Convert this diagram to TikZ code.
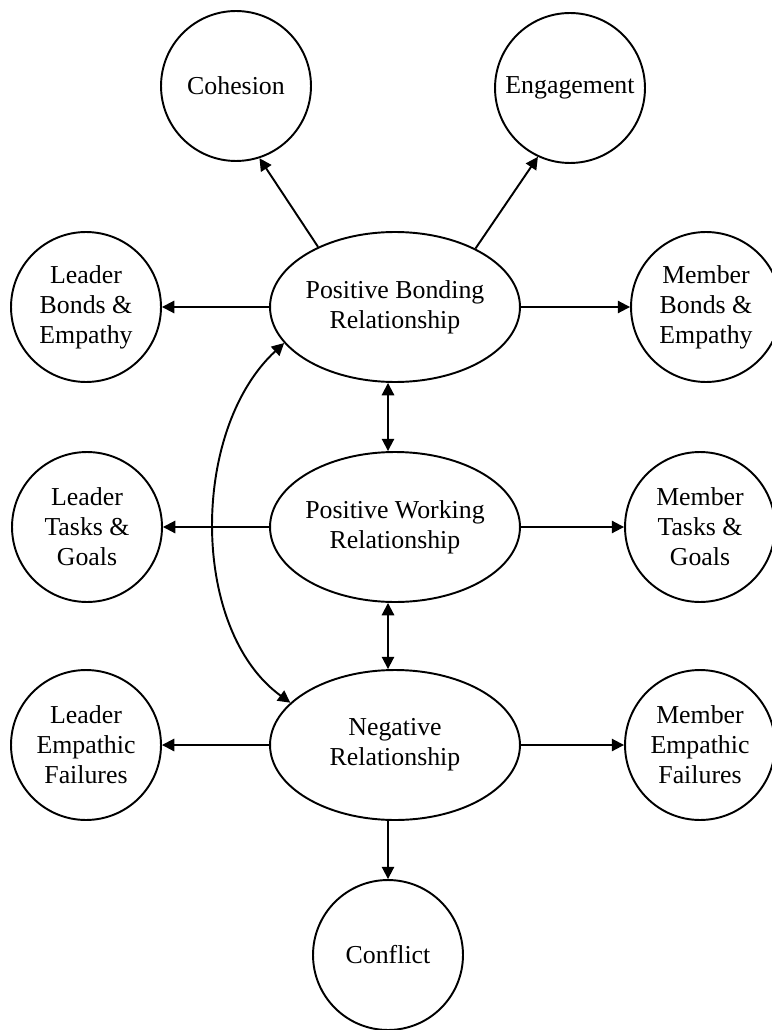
\documentclass[tikz,border=0pt]{standalone}
\usepackage{fontspec}
\setmainfont{Liberation Serif}
\usetikzlibrary{shapes, arrows.meta, positioning}
\begin{document}
\begin{tikzpicture}[
  x=0.02cm, y=-0.02cm, line width=1.1pt, >={Triangle[length=7pt, width=7pt]},
  rcirc/.style={draw, circle, minimum size=3cm, inner sep=0pt, align=center, font=\fontsize{14.7}{17}\selectfont},
  rell/.style={draw, ellipse, minimum width=5cm, minimum height=3cm, inner xsep=-3pt, inner ysep=0pt, align=center, font=\fontsize{14.7}{17}\selectfont}
]
  \useasboundingbox (0,0) rectangle (771,1030);
  \node[rcirc] (coh) at (236,86) {Cohesion};
  \node[rcirc] (eng) at (570,88) {Engagement};
  \node[rcirc] (ldb) at (86,307) {Leader\\Bonds \&\\Empathy};
  \node[rell] (pbr) at (395,307) {Positive Bonding\\Relationship};
  \node[rcirc] (mbb) at (706,307) {Member\\Bonds \&\\Empathy};
  \node[rcirc] (ldt) at (87,527) {Leader\\Tasks \&\\Goals};
  \node[rell] (pwr) at (395,527) {Positive Working\\Relationship};
  \node[rcirc] (mbt) at (700,527) {Member\\Tasks \&\\Goals};
  \node[rcirc] (lde) at (86,745) {Leader\\Empathic\\Failures};
  \node[rell] (ngr) at (395,745) {Negative\\Relationship};
  \node[rcirc] (mbe) at (700,745) {Member\\Empathic\\Failures};
  \node[rcirc] (cfl) at (388,955) {Conflict};

  \draw[->] (pbr.142) -- (coh.288);
  \draw[->] (pbr.36) -- (eng.245);
  \draw[->] (pbr) -- (ldb);
  \draw[->] (pbr) -- (mbb);
  \draw[<->] (pbr.south -| cfl) -- (pwr.north -| cfl);
  \draw[->] (pwr) -- (ldt);
  \draw[->] (pwr) -- (mbt);
  \draw[<->] (pwr.south -| cfl) -- (ngr.north -| cfl);
  \draw[->] (ngr) -- (lde);
  \draw[->] (ngr) -- (mbe);
  \draw[->] (ngr.south -| cfl) -- (cfl);
  \draw[<->] (pbr.198) .. controls (190,430) and (190,630) .. (ngr.158);
\end{tikzpicture}
\end{document}
